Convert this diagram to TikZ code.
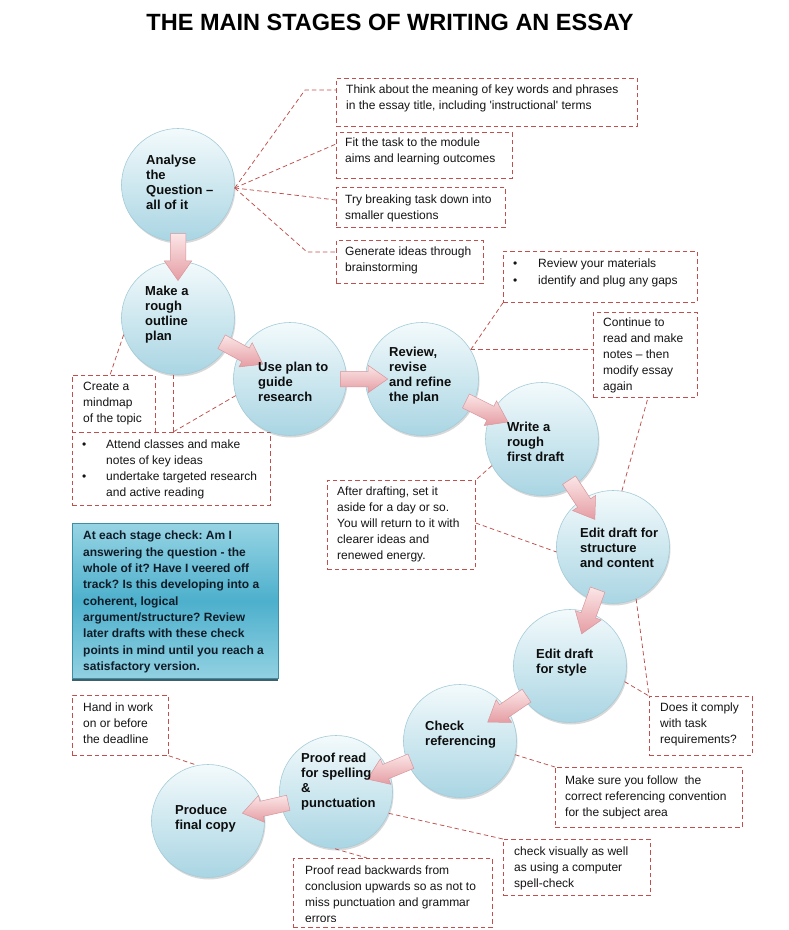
\documentclass[tikz,border=0pt]{standalone}
\usepackage{fontspec}
\setmainfont{Liberation Sans}
\usetikzlibrary{shapes.arrows,shadows,calc}
\definecolor{lead}{HTML}{C0504D}
\definecolor{circtop}{HTML}{F3FAFC}
\definecolor{circbot}{HTML}{A9D5E3}
\definecolor{circbd}{HTML}{A5CCD9}
\definecolor{arrtop}{HTML}{FBE6E7}
\definecolor{arrbot}{HTML}{E59DA3}
\definecolor{arrbd}{HTML}{D8969B}
\definecolor{boxtop}{HTML}{97D4E4}
\definecolor{boxmid}{HTML}{4DB0CC}
\definecolor{boxbot}{HTML}{92D1E2}
\definecolor{boxbd}{HTML}{3E8EA5}
\definecolor{boxsh}{HTML}{2B4F5C}
\definecolor{boxtext}{HTML}{0F1C28}
\frenchspacing
\begin{document}
\begin{tikzpicture}[x=1pt,y=-1pt,
  leader/.style={draw=lead, line width=0.75pt, dash pattern=on 4.5pt off 3pt},
  cbox/.style={draw=lead, line width=0.75pt, dash pattern=on 4.5pt off 3pt, anchor=north west, inner sep=0, fill=white},
  ctext/.style={anchor=north west, inner sep=0, align=left, font=\fontsize{12}{16}\selectfont, text=black!92},
  stage/.style={circle, minimum size=113pt, inner sep=0, draw=circbd, line width=0.6pt, top color=circtop, bottom color=circbot,
     drop shadow={shadow xshift=1pt, shadow yshift=-2pt, opacity=0.25, fill=black!60}},
  stext/.style={anchor=north west, inner sep=0, align=left, font=\bfseries\fontsize{13}{15}\selectfont, text=black!95},
  blk/.style={single arrow, draw=arrbd, line width=0.5pt, top color=arrtop, bottom color=arrbot, inner xsep=0pt, inner ysep=7.5pt,
     minimum height=47pt, single arrow head extend=6pt, single arrow tip angle=70, sloped, allow upside down}
]
\useasboundingbox (0,0) rectangle (788,930);
\fill[white] (0,0) rectangle (788,930);

% title
\node[anchor=base, inner sep=0, font=\bfseries\fontsize{23.5}{28}\selectfont] (title) at (390,30) {THE MAIN STAGES OF WRITING AN ESSAY};

% callout boxes
\node[cbox, minimum width=301pt, minimum height=48pt] (b1) at (336,78) {};
\node[cbox, minimum width=176pt, minimum height=46pt] (b2) at (336,132) {};
\node[cbox, minimum width=169pt, minimum height=40pt] (b3) at (336,187) {};
\node[cbox, minimum width=147pt, minimum height=43pt] (b4) at (336,240) {};
\node[cbox, minimum width=194pt, minimum height=51pt] (b5) at (503,251) {};
\node[cbox, minimum width=104pt, minimum height=85pt] (b6) at (593,312) {};
\node[cbox, minimum width=83pt, minimum height=57pt] (b7) at (72,375) {};
\node[cbox, minimum width=198pt, minimum height=73pt] (b8) at (72,432) {};
\node[cbox, minimum width=148pt, minimum height=89pt] (b9) at (327,480) {};
\node[cbox, minimum width=103pt, minimum height=59pt] (b11) at (649,696) {};
\node[cbox, minimum width=96pt, minimum height=60pt] (b12) at (72,695) {};
\node[cbox, minimum width=187pt, minimum height=60pt] (b13) at (555,767) {};
\node[cbox, minimum width=147pt, minimum height=56pt] (b14) at (503,839) {};
\node[cbox, minimum width=199pt, minimum height=69pt] (b15) at (293,858) {};

% checking box
\node[anchor=north west, inner sep=0, minimum width=206pt, minimum height=155pt, draw=boxbd, line width=0.6pt,
  top color=boxtop, bottom color=boxbot, middle color=boxmid,
  drop shadow={shadow xshift=0pt, shadow yshift=-3pt, opacity=0.9, fill=boxsh}] (b10) at (72,523) {};

% stages
\node[stage] (c1) at (178,185) {};
\node[stage] (c2) at (178,318) {};
\node[stage] (c3) at (290,379) {};
\node[stage] (c4) at (422,379) {};
\node[stage] (c5) at (542,439) {};
\node[stage] (c6) at (613,547) {};
\node[stage] (c7) at (570,666) {};
\node[stage] (c8) at (460,741) {};
\node[stage] (c9) at (336,792) {};
\node[stage] (c10) at (208,821) {};

% leader lines
\coordinate (k1) at (305,90);
\coordinate (k4) at (307,252);
\draw[leader] (c1.-3) -- (k1) -- (k1 -| b1.west);
\draw[leader] (c1.-3) -- ($(b2.north west)+(0,12)$);
\draw[leader] (c1.-3) -- ($(b3.north west)+(0,13)$);
\draw[leader] (c1.-3) -- (k4) -- (k4 -| b4.west);
\draw[leader] (c2.197) -- ($(b7.north west)+(38,0)$);
\coordinate (k8) at (c2.-95 |- b8.north);
\draw[leader] (c2.-95) -- (k8);
\draw[leader] (c3.197) -- (k8);
\draw[leader] (c4.31) -- (b5.south west);
\draw[leader] (c4.31) -- (c4.31 -| b6.west);
\draw[leader] (c5.208) -- (b9.north east);
\draw[leader] ($(b9.north east)+(0,43)$) -- (c6.185);
\draw[leader] (c6.81) -- ($(b6.south west)+(55,0)$);
\draw[leader] (c6.-66) -- (b11.north west);
\draw[leader] (c7.-16) -- (b11.north west);
\draw[leader] (c8.-14) -- (b13.north west);
\draw[leader] (c9.-22) -- (b14.north west);
\draw[leader] (c9.-91) -- ($(b15.north west)+(74,0)$);
\draw[leader] (b12.south east) -- (c10.101);

% block arrows
\path (c1.center) -- (c2.center) node[blk, pos=0.5] (a1) {};
\path (c2.center) -- (c3.center) node[blk, pos=0.53] (a2) {};
\path (c3.center) -- (c4.center) node[blk, pos=0.52] (a3) {};
\path (c4.center) -- (c5.center) node[blk, pos=0.5] (a4) {};
\path (c5.center) -- (c6.center) node[blk, pos=0.52] (a5) {};
\path (c6.center) -- (c7.center) node[blk, pos=0.5] (a6) {};
\path (c7.center) -- (c8.center) node[blk, pos=0.53] (a7) {};
\path (c8.center) -- (c9.center) node[blk, pos=0.53] (a8) {};
\path (c9.center) -- (c10.center) node[blk, pos=0.51] (a9) {};

% stage texts
\node[stext] (s1) at (146,155) {Analyse\\the\\Question --\\all of it};
\node[stext] (s2) at (145,286) {Make a\\rough\\outline\\plan};
\node[stext] (s3) at (258,362) {Use plan to\\guide\\research};
\node[stext] (s4) at (389,347) {Review,\\revise\\and refine\\the plan};
\node[stext] (s5) at (507,422) {Write a\\rough\\first draft};
\node[stext] (s6) at (580,528) {Edit draft for\\structure\\and content};
\node[stext] (s7) at (536,649) {Edit draft\\for style};
\node[stext] (s8) at (425,721) {Check\\referencing};
\node[stext] (s9) at (301,753) {Proof read\\for spelling\\\&\\punctuation};
\node[stext] (s10) at (175,805) {Produce\\final copy};

% callout texts
\node[ctext] (t1) at (346,85) {Think about the meaning of key words and phrases\\in the essay title, including \textquotesingle instructional\textquotesingle{} terms};
\node[ctext] (t2) at (345,138) {Fit the task to the module\\aims and learning outcomes};
\node[ctext] (t3) at (345,195) {Try breaking task down into\\smaller questions};
\node[ctext] (t4) at (345,247) {Generate ideas through\\brainstorming};
\node[ctext, font=\fontsize{12}{17}\selectfont] (t5) at (513,259) {\makebox[25pt][l]{\textbullet}Review your materials\\\makebox[25pt][l]{\textbullet}identify and plug any gaps};
\node[ctext] (t6) at (603,318) {Continue to\\read and make\\notes -- then\\modify essay\\again};
\node[ctext] (t7) at (83,382) {Create a\\mindmap\\of the topic};
\node[ctext] (t8) at (82,440) {\makebox[24pt][l]{\textbullet}Attend classes and make\\\hspace*{24pt}notes of key ideas\\\makebox[24pt][l]{\textbullet}undertake targeted research\\\hspace*{24pt}and active reading};
\node[ctext] (t9) at (337,487) {After drafting, set it\\aside for a day or so.\\You will return to it with\\clearer ideas and\\renewed energy.};
\node[ctext, font=\bfseries\fontsize{12}{16.3}\selectfont, text=boxtext] (t10) at (83,531) {At each stage check: Am I\\answering the question - the\\whole of it? Have I veered off\\track? Is this developing into a\\coherent, logical\\argument/structure? Review\\later drafts with these check\\points in mind until you reach a\\satisfactory version.};
\node[ctext] (t11) at (660,703) {Does it comply\\with task\\requirements?};
\node[ctext] (t12) at (83,703) {Hand in work\\on or before\\the deadline};
\node[ctext] (t13) at (565,776) {Make sure you follow~ the\\correct referencing convention\\for the subject area};
\node[ctext] (t14) at (514,847) {check visually as well\\as using a computer\\spell-check};
\begin{scope}
\clip (293,858) rectangle (492,921);
\node[ctext] (t15) at (305,866) {Proof read backwards from\\conclusion upwards so as not to\\miss punctuation and grammar\\errors};
\end{scope}
\end{tikzpicture}
\end{document}
